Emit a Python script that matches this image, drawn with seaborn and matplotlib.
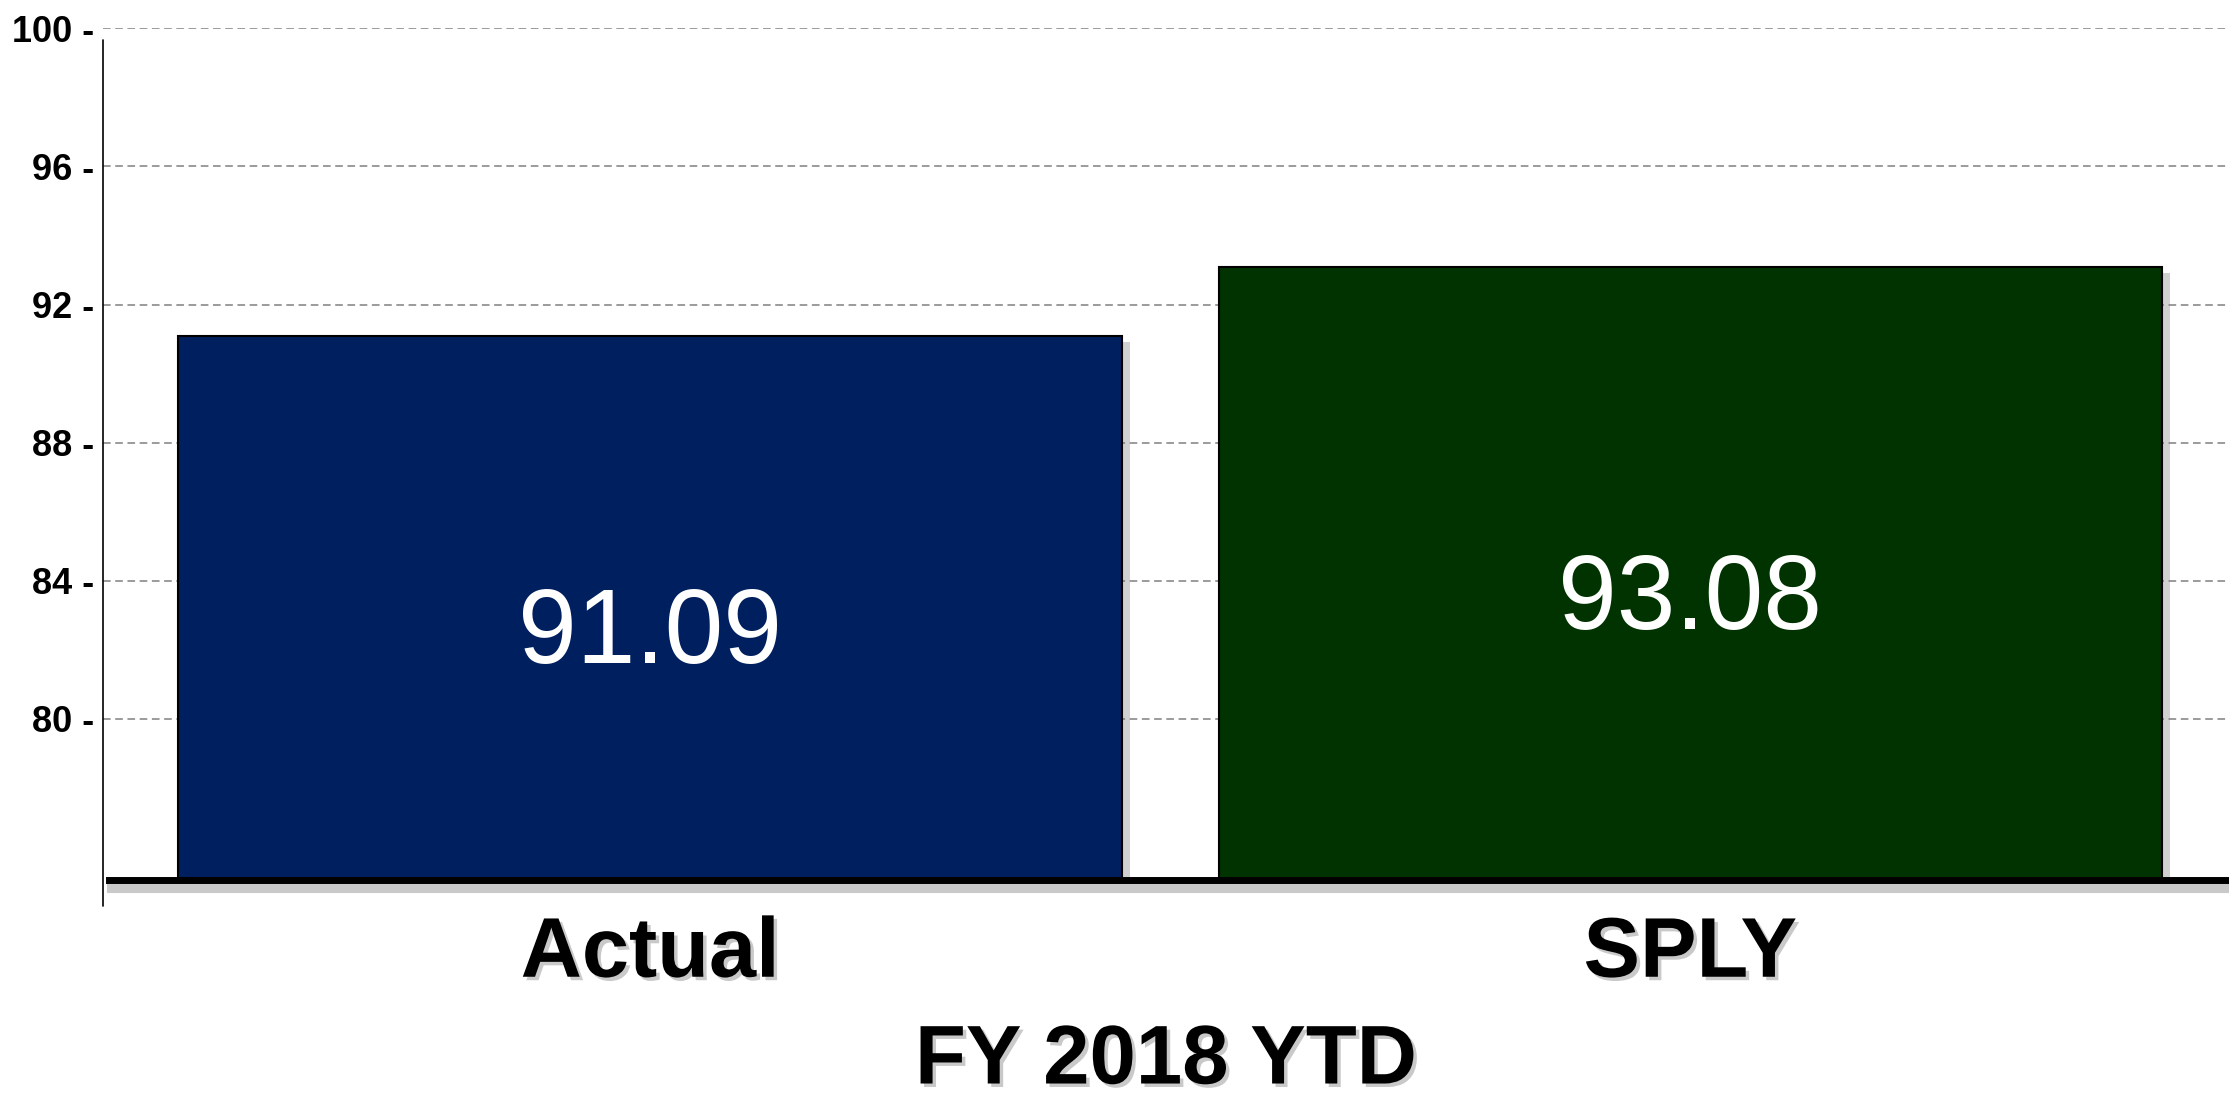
import pandas as pd
import seaborn as sns
import matplotlib.patheffects as pe
from matplotlib import pyplot as plt
from matplotlib.lines import Line2D

categories = ["Actual", "SPLY"]
values = [91.09, 93.08]
bar_colors = ["#001F5F", "#003300"]
y_ticks = [80, 84, 88, 92, 96, 100]
x_title = "FY 2018 YTD"

df = pd.DataFrame({"period": categories, "score": values})

sns.set_style("white")
plt.rcParams["font.family"] = ["Liberation Sans", "DejaVu Sans"]
plt.rcParams["text.color"] = "black"
plt.rcParams["axes.labelcolor"] = "black"
plt.rcParams["xtick.color"] = "black"
plt.rcParams["ytick.color"] = "black"

fig = plt.figure(figsize=(22.29, 11.05), dpi=100)
ax = fig.add_axes([0.0462, 0.2036, 0.9538, 0.7707])

sns.barplot(data=df, x="period", y="score", hue="period", palette=bar_colors,
            saturation=1, width=0.907, edgecolor="black", linewidth=1.5,
            legend=False, ax=ax)

bar_shadow = [pe.SimplePatchShadow(offset=(6, -4), shadow_rgbFace="0.4", alpha=0.3), pe.Normal()]
for bar in ax.patches:
    bar.set_path_effects(bar_shadow)

for cont in ax.containers:
    labs = ax.bar_label(cont, fmt="%.2f", label_type="center", color="white",
                        fontsize=76)
    for lab in labs:
        lab.xyann = (0, -20)

ax.set_ylim(75.33, 100)
ax.set_xlim(-0.526, 1.518)

# y axis: labels with a dash, dashed grid
ax.set_yticks(y_ticks)
ax.set_yticklabels([f"{t} -" for t in y_ticks], fontsize=26, fontweight="bold")
ax.tick_params(axis="y", length=0, pad=6)
ax.yaxis.grid(True, color="#808080", linestyle=(0, (5, 3)), linewidth=1.1)
ax.set_axisbelow(True)

# x axis
txt_shadow = [pe.SimplePatchShadow(offset=(2.5, -2.5), shadow_rgbFace="0.4", alpha=0.35), pe.Normal()]
ax.set_xticks([0, 1])
ax.set_xticklabels(categories, fontsize=61, fontweight="bold")
for lab in ax.get_xticklabels():
    lab.set_path_effects(txt_shadow)
ax.set_xticks([0.5], minor=True)
ax.tick_params(axis="x", which="major", length=0, pad=25)
ax.tick_params(axis="x", which="minor", length=15, width=1.2, color="#606060", direction="out")
ax.set_xlabel(x_title, fontsize=60, fontweight="bold", labelpad=20)
ax.xaxis.label.set_path_effects(txt_shadow)
ax.set_ylabel("")

for s in ["top", "right", "left"]:
    ax.spines[s].set_visible(False)
ax.spines["bottom"].set_color("black")
ax.spines["bottom"].set_linewidth(5)
ax.spines["bottom"].set_bounds(-0.52, 1.518)
ax.spines["bottom"].set_path_effects(
    [pe.SimpleLineShadow(offset=(2, -5), shadow_color="0.3", alpha=0.3, linewidth=8), pe.Normal()])

# left spine, short at top and running a bit below the base line
ax.add_line(Line2D([0, 0], [-0.03, 0.986], transform=ax.transAxes,
                   color="black", linewidth=1.2, clip_on=False))

fig.savefig("out.png", dpi=100)
